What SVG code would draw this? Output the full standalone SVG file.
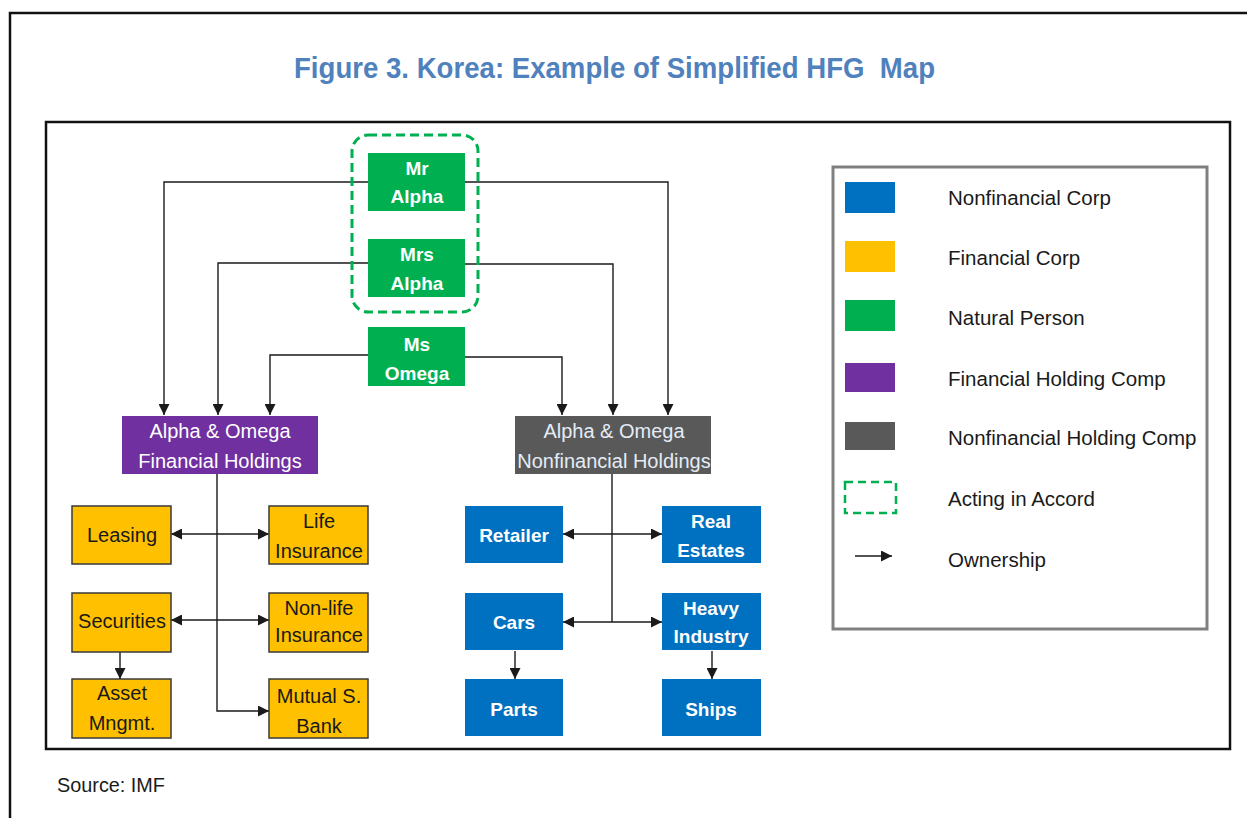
<svg xmlns="http://www.w3.org/2000/svg" width="1247" height="818" viewBox="0 0 1247 818">
  <style>
    .frame { fill: none; stroke: #111; stroke-width: 2.5; }
    .title { font-family: "Liberation Sans", Arial, sans-serif; font-weight: bold; font-size: 29px; fill: #4f81bd; }
    .lbl { font-family: "Liberation Sans", Arial, sans-serif; font-size: 20px; text-anchor: middle; }
    .bold { font-weight: bold; font-size: 19px; }
    .white { fill: #ffffff; }
    .dark { fill: #1a1a1a; }
    .person { fill: #00b050; }
    .fin { fill: #ffc000; stroke: #3a3a3a; stroke-width: 1.5; }
    .nonfin { fill: #0070c0; }
    .fhold { fill: #7030a0; }
    .nhold { fill: #595959; }
    .accord { fill: none; stroke: #00b050; stroke-width: 3; stroke-dasharray: 9 5; }
    .conn { fill: none; stroke: #1a1a1a; stroke-width: 1.4; }
    .legtxt { font-family: "Liberation Sans", Arial, sans-serif; font-size: 20.5px; fill: #1a1a1a; }
  </style>
  <defs>
    <marker id="arrow" viewBox="0 0 10 10" markerUnits="userSpaceOnUse" markerWidth="11" markerHeight="11" refX="10" refY="5" orient="auto-start-reverse">
      <path d="M0,0 L10,5 L0,10 z" fill="#1a1a1a"/>
    </marker>
  </defs>

  <rect width="1247" height="818" fill="#ffffff"/>

  <!-- page frame and chart frame -->
  <path class="frame" d="M10,818 V13 H1247"/>
  <rect class="frame" x="46" y="122" width="1184" height="627"/>

  <text class="title" x="294" y="78" textLength="641" lengthAdjust="spacingAndGlyphs" xml:space="preserve">Figure 3. Korea: Example of Simplified HFG  Map</text>

  <!-- connectors -->
  <g id="connectors">
    <path class="conn" d="M368,182 H164 V415" marker-end="url(#arrow)"/>
    <path class="conn" d="M368,263 H218 V415" marker-end="url(#arrow)"/>
    <path class="conn" d="M368,355 H270 V415" marker-end="url(#arrow)"/>
    <path class="conn" d="M465,182 H668 V415" marker-end="url(#arrow)"/>
    <path class="conn" d="M465,264 H613 V415" marker-end="url(#arrow)"/>
    <path class="conn" d="M465,357 H562 V415" marker-end="url(#arrow)"/>

    <path class="conn" d="M217,474 V711 H269" marker-end="url(#arrow)"/>
    <path class="conn" d="M171,534 H269" marker-start="url(#arrow)" marker-end="url(#arrow)"/>
    <path class="conn" d="M171,620 H269" marker-start="url(#arrow)" marker-end="url(#arrow)"/>
    <path class="conn" d="M120,652 V679" marker-end="url(#arrow)"/>

    <path class="conn" d="M612,474 V622"/>
    <path class="conn" d="M563,534 H662" marker-start="url(#arrow)" marker-end="url(#arrow)"/>
    <path class="conn" d="M563,622 H662" marker-start="url(#arrow)" marker-end="url(#arrow)"/>
    <path class="conn" d="M515,651 V679" marker-end="url(#arrow)"/>
    <path class="conn" d="M712,651 V679" marker-end="url(#arrow)"/>
  </g>

  <!-- persons acting in accord -->
  <g id="accord">
    <rect class="accord" x="352" y="135" width="126" height="177" rx="16"/>
  </g>
  <g id="mr-alpha">
    <rect class="person" x="368" y="153" width="97" height="58"/>
    <text class="lbl bold white" x="417" y="175">Mr</text>
    <text class="lbl bold white" x="417" y="203">Alpha</text>
  </g>
  <g id="mrs-alpha">
    <rect class="person" x="368" y="239" width="97" height="58"/>
    <text class="lbl bold white" x="417" y="261">Mrs</text>
    <text class="lbl bold white" x="417" y="290">Alpha</text>
  </g>
  <g id="ms-omega">
    <rect class="person" x="368" y="327" width="97" height="59"/>
    <text class="lbl bold white" x="417" y="351">Ms</text>
    <text class="lbl bold white" x="417" y="380">Omega</text>
  </g>

  <!-- holding companies -->
  <g id="fin-holdings">
    <rect class="fhold" x="122" y="416" width="196" height="58"/>
    <text class="lbl white" x="220" y="438">Alpha &amp; Omega</text>
    <text class="lbl white" x="220" y="468">Financial Holdings</text>
  </g>
  <g id="nonfin-holdings">
    <rect class="nhold" x="515" y="416" width="196" height="58"/>
    <text class="lbl" fill="#e4ecf7" x="614" y="438">Alpha &amp; Omega</text>
    <text class="lbl" fill="#e4ecf7" x="614" y="468">Nonfinancial Holdings</text>
  </g>

  <!-- financial corps -->
  <g id="leasing">
    <rect class="fin" x="72" y="506" width="99" height="58"/>
    <text class="lbl dark" x="122" y="542">Leasing</text>
  </g>
  <g id="life-insurance">
    <rect class="fin" x="269" y="506" width="99" height="58"/>
    <text class="lbl dark" x="319" y="528">Life</text>
    <text class="lbl dark" x="319" y="558">Insurance</text>
  </g>
  <g id="securities">
    <rect class="fin" x="72" y="593" width="99" height="59"/>
    <text class="lbl dark" x="122" y="628">Securities</text>
  </g>
  <g id="nonlife-insurance">
    <rect class="fin" x="269" y="593" width="99" height="59"/>
    <text class="lbl dark" x="319" y="615">Non-life</text>
    <text class="lbl dark" x="319" y="642">Insurance</text>
  </g>
  <g id="asset-mngmt">
    <rect class="fin" x="72" y="679" width="99" height="59"/>
    <text class="lbl dark" x="122" y="700">Asset</text>
    <text class="lbl dark" x="122" y="730">Mngmt.</text>
  </g>
  <g id="mutual-bank">
    <rect class="fin" x="269" y="679" width="99" height="59"/>
    <text class="lbl dark" x="319" y="703">Mutual S.</text>
    <text class="lbl dark" x="319" y="733">Bank</text>
  </g>

  <!-- nonfinancial corps -->
  <g id="retailer">
    <rect class="nonfin" x="465" y="506" width="98" height="57"/>
    <text class="lbl bold white" x="514" y="542">Retailer</text>
  </g>
  <g id="real-estates">
    <rect class="nonfin" x="662" y="506" width="99" height="57"/>
    <text class="lbl bold white" x="711" y="528">Real</text>
    <text class="lbl bold white" x="711" y="557">Estates</text>
  </g>
  <g id="cars">
    <rect class="nonfin" x="465" y="593" width="98" height="57"/>
    <text class="lbl bold white" x="514" y="629">Cars</text>
  </g>
  <g id="heavy-industry">
    <rect class="nonfin" x="662" y="593" width="99" height="57"/>
    <text class="lbl bold white" x="711" y="615">Heavy</text>
    <text class="lbl bold white" x="711" y="643">Industry</text>
  </g>
  <g id="parts">
    <rect class="nonfin" x="465" y="679" width="98" height="57"/>
    <text class="lbl bold white" x="514" y="716">Parts</text>
  </g>
  <g id="ships">
    <rect class="nonfin" x="662" y="679" width="99" height="57"/>
    <text class="lbl bold white" x="711" y="716">Ships</text>
  </g>

  <!-- legend -->
  <g id="legend">
    <rect x="833" y="167" width="374" height="462" fill="#ffffff" stroke="#808080" stroke-width="3"/>
    <rect class="nonfin" x="845" y="182" width="50" height="31"/>
    <text class="legtxt" x="948" y="205">Nonfinancial Corp</text>
    <rect fill="#ffc000" x="845" y="241" width="50" height="31"/>
    <text class="legtxt" x="948" y="265">Financial Corp</text>
    <rect class="person" x="845" y="300" width="50" height="31"/>
    <text class="legtxt" x="948" y="325">Natural Person</text>
    <rect class="fhold" x="845" y="363" width="50" height="29"/>
    <text class="legtxt" x="948" y="386">Financial Holding Comp</text>
    <rect class="nhold" x="845" y="422" width="50" height="28"/>
    <text class="legtxt" x="948" y="445">Nonfinancial Holding Comp</text>
    <rect x="845" y="482" width="51" height="31" fill="none" stroke="#00b050" stroke-width="2.5" stroke-dasharray="8 5"/>
    <text class="legtxt" x="948" y="506">Acting in Accord</text>
    <path class="conn" d="M855,556 H892" marker-end="url(#arrow)"/>
    <text class="legtxt" x="948" y="567">Ownership</text>
  </g>

  <text x="57" y="792" font-family="'Liberation Sans', Arial, sans-serif" font-size="21" fill="#1a1a1a" textLength="108" lengthAdjust="spacingAndGlyphs">Source: IMF</text>
</svg>
